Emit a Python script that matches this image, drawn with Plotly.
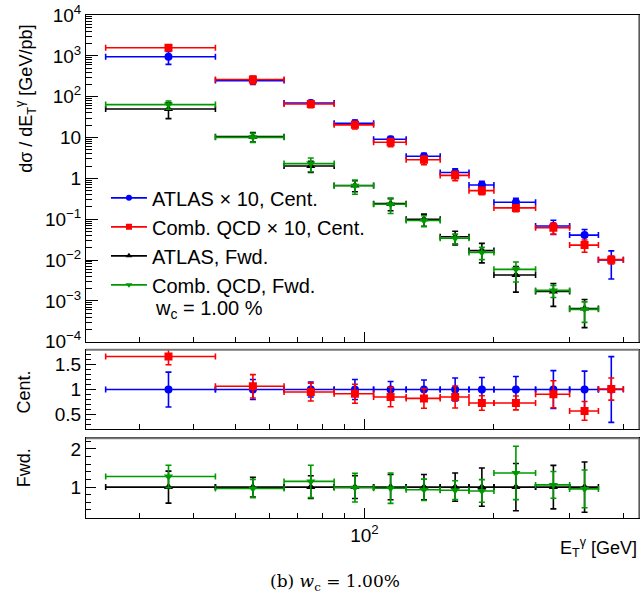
import numpy as np
import plotly.graph_objects as go
from plotly.subplots import make_subplots

# ---------------- data ----------------
bin_lo_cent = [25, 45, 65, 85, 105, 125, 150, 175, 200, 250, 300, 350]
bin_hi_cent = [45, 65, 85, 105, 125, 150, 175, 200, 250, 300, 350, 400]
bin_lo_fwd = [25, 45, 65, 85, 105, 125, 150, 175, 200, 250, 300]
bin_hi_fwd = [45, 65, 85, 105, 125, 150, 175, 200, 250, 300, 350]

cent_atlas = [950, 248, 70, 22.3, 9.05, 3.47, 1.39, 0.685, 0.259, 0.068, 0.0407, 0.0101]
cent_qcd = [1580, 264, 66.4, 20.4, 7.69, 2.85, 1.18, 0.5, 0.189, 0.0615, 0.0232, 0.0102]
cent_atlas_relerr = [0.35, 0.2, 0.15, 0.2, 0.16, 0.19, 0.23, 0.24, 0.26, 0.38, 0.37, 0.66]
cent_qcd_relerr = [0.10, 0.22, 0.19, 0.21, 0.23, 0.24, 0.26, 0.2, 0.19, 0.3, 0.33, 0.22]

fwd_atlas = [50, 10.5, 2.0, 0.67, 0.24, 0.1, 0.037, 0.017, 0.0043, 0.0017, 0.00065]
fwd_qcd = [64, 10.1, 2.3, 0.66, 0.233, 0.093, 0.034, 0.0153, 0.0059, 0.0018, 0.00062]
fwd_atlas_relerr = [0.42, 0.26, 0.3, 0.3, 0.33, 0.33, 0.37, 0.5, 0.62, 0.57, 0.66]
fwd_qcd_relerr = [0.23, 0.25, 0.37, 0.38, 0.41, 0.30, 0.27, 0.33, 0.51, 0.33, 0.52]

names = ["ATLAS \u00d7 10, Cent.", "Comb. QCD \u00d7 10, Cent.", "ATLAS, Fwd.", "Comb. QCD, Fwd."]
colors = ["#0000ff", "#ff0000", "#000000", "#009a00"]
symbols = ["circle", "square", "triangle-up", "triangle-down"]

FONT = "Liberation Sans, Arial, sans-serif"
TICKFS = 19
TITLEFS = 18
LEGFS = 20

fig = make_subplots(rows=3, cols=1, shared_xaxes=True, vertical_spacing=0.0)


def centers(lo, hi):
    return [(a + b) / 2 for a, b in zip(lo, hi)]


def add_series(row, lo, hi, y, rel, color, symbol, size):
    x = centers(lo, hi)
    ex_p = [h - c for h, c in zip(hi, x)]
    ex_m = [c - l for c, l in zip(x, lo)]
    ey = [v * r for v, r in zip(y, rel)]
    fig.add_trace(go.Scatter(
        x=x, y=y, mode="markers",
        marker=dict(color=color, size=size, symbol=symbol),
        error_x=dict(type="data", symmetric=False, array=ex_p, arrayminus=ex_m,
                     color=color, thickness=1.6, width=3),
        error_y=dict(type="data", array=ey, color=color, thickness=1.6, width=3),
        showlegend=False, hoverinfo="skip"), row=row, col=1)


# top panel
add_series(1, bin_lo_cent, bin_hi_cent, cent_atlas, cent_atlas_relerr, colors[0], symbols[0], 8)
add_series(1, bin_lo_cent, bin_hi_cent, cent_qcd, cent_qcd_relerr, colors[1], symbols[1], 8)
add_series(1, bin_lo_fwd, bin_hi_fwd, fwd_atlas, fwd_atlas_relerr, colors[2], symbols[2], 8)
add_series(1, bin_lo_fwd, bin_hi_fwd, fwd_qcd, fwd_qcd_relerr, colors[3], symbols[3], 8)

# ratio panels
ones_c = [1.0] * len(cent_atlas)
ratio_c = [q / a for q, a in zip(cent_qcd, cent_atlas)]
add_series(2, bin_lo_cent, bin_hi_cent, ones_c, cent_atlas_relerr, colors[0], symbols[0], 8)
add_series(2, bin_lo_cent, bin_hi_cent, ratio_c, cent_qcd_relerr, colors[1], symbols[1], 8)
ones_f = [1.0] * len(fwd_atlas)
ratio_f = [q / a for q, a in zip(fwd_qcd, fwd_atlas)]
add_series(3, bin_lo_fwd, bin_hi_fwd, ones_f, fwd_atlas_relerr, colors[2], symbols[2], 8)
add_series(3, bin_lo_fwd, bin_hi_fwd, ratio_f, fwd_qcd_relerr, colors[3], symbols[3], 8)

# legend entries
for i in range(4):
    fig.add_trace(go.Scatter(
        x=[None], y=[None], mode="lines+markers", name=names[i],
        line=dict(color=colors[i], width=1.6),
        marker=dict(color=colors[i], symbol=symbols[i], size=6),
        legendgroup=f"g{i}"), row=1, col=1)

# ---------------- axes ----------------
xr = [np.log10(22.5), np.log10(435)]
x_minor = [30, 40, 50, 60, 70, 80, 90, 200, 300, 400]
axis_common = dict(showline=True, linecolor="black", linewidth=1, mirror=True,
                   ticks="inside", tickcolor="black", showgrid=False, zeroline=False,
                   ticklabeloverflow="allow",
                   tickfont=dict(family=FONT, size=TICKFS, color="black"))

for r in (1, 2, 3):
    fig.update_xaxes(type="log", range=xr, tickvals=[100],
                     ticktext=["10<sup>2</sup>"] if r == 3 else [""],
                     showticklabels=(r == 3), ticklen=10, tickwidth=1,
                     minor=dict(tickvals=x_minor, ticklen=5, ticks="inside", tickcolor="black", showgrid=False),
                     row=r, col=1, **axis_common)

dec = list(range(-4, 5))
ytext = {-4: "10<sup>\u22124</sup>", -3: "10<sup>\u22123</sup>", -2: "10<sup>\u22122</sup>",
         -1: "10<sup>\u22121</sup>", 0: "1", 1: "10", 2: "10<sup>2</sup>", 3: "10<sup>3</sup>", 4: "10<sup>4</sup>"}
y_minor = [m * 10.0 ** d for d in range(-4, 4) for m in range(2, 10)]
fig.update_yaxes(type="log", range=[-4.0005, 4.0005], tickvals=[10.0 ** d for d in dec],
                 ticktext=[ytext[d] for d in dec], ticklen=12, tickwidth=1,
                 minor=dict(tickvals=y_minor, ticklen=6, ticks="inside", tickcolor="black", showgrid=False),
                 row=1, col=1, **axis_common)

fig.update_yaxes(range=[0.2, 1.8], tickvals=[0.5, 1, 1.5], ticktext=["0.5", "1", "1.5"],
                 ticklen=10, minor=dict(dtick=0.1, ticklen=5, ticks="inside", tickcolor="black", showgrid=False),
                 row=2, col=1, **axis_common)
fig.update_yaxes(range=[0.19, 2.28], tickvals=[1, 2], ticktext=["1", "2"],
                 ticklen=10, minor=dict(dtick=0.2, ticklen=5, ticks="inside", tickcolor="black", showgrid=False),
                 row=3, col=1, **axis_common)

H = 596
t, b = 13, 78
ph = H - t - b
L = 86
pw = 642 - L - 2


def dom(top_px, bot_px):
    return [(H - b - bot_px) / ph, (H - b - top_px) / ph]


def py(px):
    return (H - b - px) / ph


def pxx(px):
    return (px - L) / pw


fig.update_layout(
    yaxis=dict(domain=dom(13, 341)),
    yaxis2=dict(domain=dom(349, 429)),
    yaxis3=dict(domain=dom(438, 518)),
)


def ann(text, x, y, xanchor="center", size=TITLEFS, angle=0, family=FONT):
    return dict(text=text, xref="paper", yref="paper", x=pxx(x), y=py(y),
                xanchor=xanchor, yanchor="middle", textangle=angle,
                showarrow=False, font=dict(family=family, size=size, color="black"))


# grey frame edges (top of ratio panels, right edges)
shapes = []
for r, ax in ((1, "y"), (2, "y2"), (3, "y3")):
    xa = "x" if r == 1 else f"x{r}"
    shapes.append(dict(type="line", xref=f"{xa} domain", yref=f"{ax} domain",
                       x0=1, x1=1, y0=0, y1=1, line=dict(color="#777777", width=1.5)))
    if r > 1:
        shapes.append(dict(type="line", xref=f"{xa} domain", yref=f"{ax} domain",
                           x0=0, x1=1, y0=1, y1=1, line=dict(color="#777777", width=2)))

fig.update_layout(
    width=642, height=596,
    margin=dict(l=L, r=2, t=t, b=b),
    paper_bgcolor="white", plot_bgcolor="white",
    font=dict(family=FONT, size=TICKFS, color="black"),
    shapes=shapes,
    legend=dict(x=pxx(106), y=py(177), xanchor="left", yanchor="top",
                bgcolor="rgba(0,0,0,0)", font=dict(family=FONT, size=LEGFS),
                itemwidth=36, tracegroupgap=0),
    annotations=[
        ann("w<sub>c</sub> = 1.00 %", 153, 309, xanchor="left", size=LEGFS),
        ann("E<sub>T</sub><sup>\u03b3</sup> [GeV]", 640, 548, xanchor="right"),
        ann("(b) <i>w</i><sub>c</sub> = 1.00%", 335, 583, size=17,
            family="DejaVu Serif, Liberation Serif, serif"),
        ann("d\u03c3 / dE<sub>T</sub><sup>\u03b3</sup> [GeV/pb]", 26, 97, angle=-90),
        ann("Cent.", 24, 392, angle=-90),
        ann("Fwd.", 24, 468, angle=-90),
    ],
)

fig.write_html("out.html", config={"displayModeBar": False},
               post_script="document.body.style.margin='0';document.body.style.overflow='hidden';")
